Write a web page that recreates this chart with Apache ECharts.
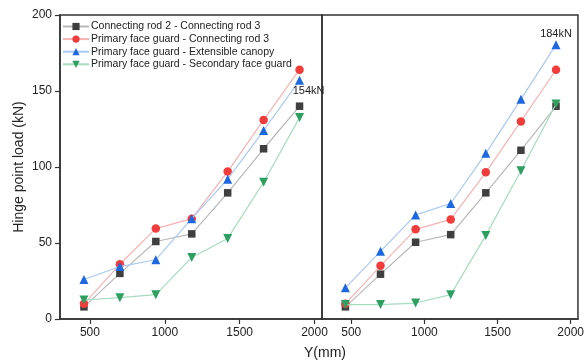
<!DOCTYPE html>
<html>
<head>
<meta charset="utf-8">
<script src="https://cdn.jsdelivr.net/npm/echarts@6/dist/echarts.min.js"></script>
<style>html,body{margin:0;padding:0;background:#fff}#c{width:587px;height:362px}</style>
</head>
<body>
<div id="c"></div>
<script>
const xValues = [460, 700, 940, 1180, 1420, 1660, 1900];
const xTicks = [500, 1000, 1500, 2000];
const seriesNames = [
  'Connecting rod 2 - Connecting rod 3',
  'Primary face guard - Connecting rod 3',
  'Primary face guard - Extensible canopy',
  'Primary face guard - Secondary face guard'
];
// Left panel
const leftRod2Rod3 = [8, 30, 51, 56, 83, 112, 140];
const leftGuardRod3 = [10, 36, 59.5, 66, 97, 131, 164];
const leftGuardCanopy = [26, 34.5, 39, 66, 92, 124, 157];
const leftGuardSecondary = [12.5, 14, 16, 40.5, 53, 90, 132.5];
// Right panel
const rightRod2Rod3 = [8, 29.5, 50.5, 55.5, 83, 111, 140];
const rightGuardRod3 = [10, 35, 59, 65.5, 96.5, 130, 164];
const rightGuardCanopy = [20.5, 44.5, 68.5, 76, 109, 144.5, 180.5];
const rightGuardSecondary = [9.5, 9.5, 10.5, 16, 55, 97.5, 141.5];
const peakLabels = ['154kN', '184kN'];

const markerColors = ['#3f3f3f', '#f23b3b', '#1c68e2', '#2da061'];
const lineColors = ['#b8b8b8', '#f7b3b3', '#a9c9f3', '#a7dcbd'];
const symbols = ['rect', 'circle', 'triangle', 'triangle'];
const symbolSizes = [7.5, 8.5, 9, 9];
const rotates = [0, 0, 0, 180];

const pair = (arr) => arr.map((v, i) => [xValues[i], v]);
const fontFamily = '"Liberation Sans", Arial, sans-serif';

function makeSeries(dataArr, gridIdx, labelIdx, labelText, labelPos, labelOffset) {
  return dataArr.map((arr, k) => {
    const data = pair(arr);
    const s = {
      name: seriesNames[k],
      type: 'line',
      xAxisIndex: gridIdx,
      yAxisIndex: gridIdx,
      data: data,
      symbol: symbols[k],
      symbolSize: symbolSizes[k],
      symbolRotate: rotates[k],
      itemStyle: { color: markerColors[k] },
      lineStyle: { color: lineColors[k], width: 1.2 },
      emphasis: { disabled: true },
      animation: false,
      z: 2 + k
    };
    if (k === labelIdx) {
      s.data = data.map((d, i) => i === data.length - 1 ? {
        value: d,
        label: { show: true, position: labelPos, offset: labelOffset, formatter: labelText,
                 color: '#222', fontSize: 11, fontFamily: fontFamily }
      } : d);
    }
    return s;
  });
}

const chart = echarts.init(document.getElementById('c'), null, { renderer: 'canvas' });

const xAxisBase = (gi) => ({
  type: 'value', gridIndex: gi, min: 300, max: 2050,
  axisLine: { show: true, lineStyle: { color: '#333', width: 1.5 } },
  axisTick: { show: true, inside: false, length: 5, customValues: xTicks, lineStyle: { color: '#333', width: 1.2 } },
  axisLabel: { show: true, customValues: xTicks, formatter: (v) => String(v), color: '#222', fontSize: 12, fontFamily: fontFamily, margin: 8 },
  splitLine: { show: false }
});

chart.setOption({
  backgroundColor: '#fff',
  animation: false,
  textStyle: { fontFamily: fontFamily },
  title: {
    text: 'Y(mm)', left: 299, top: 341,
    textStyle: { fontSize: 14, fontWeight: 'normal', color: '#222', fontFamily: fontFamily }
  },
  legend: {
    data: seriesNames,
    orient: 'vertical', left: 57, top: 16,
    itemWidth: 26, itemHeight: 9, itemGap: 1.6,
    textStyle: { fontSize: 10.5, color: '#222', fontFamily: fontFamily, padding: [0, 0, 0, -3] },
    selectedMode: false
  },
  grid: [
    { left: 60, top: 15, width: 262, height: 304, show: true, borderColor: '#333', borderWidth: 1.5 },
    { left: 322, top: 15, width: 262, height: 304, show: true, borderColor: '#333', borderWidth: 1.5 }
  ],
  xAxis: [xAxisBase(0), xAxisBase(1)],
  yAxis: [
    {
      type: 'value', gridIndex: 0, min: 0, max: 200, interval: 50,
      name: 'Hinge point load (kN)', nameLocation: 'middle', nameGap: 34,
      nameTextStyle: { fontSize: 14, color: '#222', fontFamily: fontFamily },
      axisLine: { show: true, lineStyle: { color: '#333', width: 1.5 } },
      axisTick: { show: true, inside: false, length: 5, lineStyle: { color: '#333', width: 1.2 } },
      axisLabel: { color: '#222', fontSize: 12, fontFamily: fontFamily, margin: 8 },
      splitLine: { show: false }
    },
    {
      type: 'value', gridIndex: 1, min: 0, max: 200, interval: 50,
      axisLine: { show: false }, axisTick: { show: false }, axisLabel: { show: false },
      splitLine: { show: false }
    }
  ],
  series: [
    ...makeSeries([leftRod2Rod3, leftGuardRod3, leftGuardCanopy, leftGuardSecondary], 0, 2, peakLabels[0], 'bottom', [9, -4]),
    ...makeSeries([rightRod2Rod3, rightGuardRod3, rightGuardCanopy, rightGuardSecondary], 1, 2, peakLabels[1], 'top', [0, 4])
  ]
});
</script>
</body>
</html>
